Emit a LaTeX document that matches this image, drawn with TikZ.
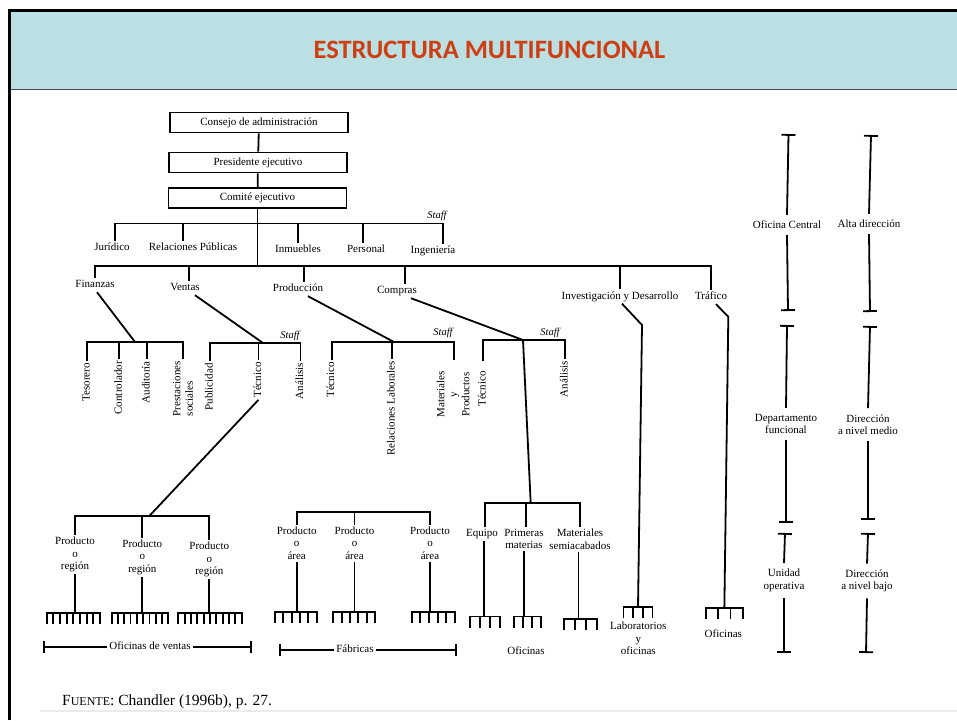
\documentclass[tikz,border=0pt]{standalone}
\usepackage{fontspec}
\setmainfont{Liberation Serif}
\newfontfamily\titlefont{Carlito}
\usepackage{xcolor}
\usepackage{tikz}
\usetikzlibrary{arrows.meta, positioning, calc}

\definecolor{hdrblue}{RGB}{187,224,227}
\definecolor{hdrred}{RGB}{205,62,18}

\newcommand{\chfont}{\fontsize{11}{12.5}\selectfont}
% comb of offices: name, x1, x2, y, teeth
\newcommand{\rake}[5]{%
  \coordinate (#1) at ({(#2+#3)/2},#4);
  \draw[ln] (#2,#4+11) -- (#2,#4) -- (#3,#4) -- (#3,#4+11);
  \foreach \k in {2,...,\numexpr#5-1\relax}
    \draw[ln] ({#2+(\k-1)*(#3-#2)/(#5-1)},#4) -- ++(0,11);
}

\begin{document}
\begin{tikzpicture}[
  x=1pt, y=-1pt,
  ln/.style={line width=1.8pt},
  box/.style={draw, line width=1.8pt, minimum width=178pt, minimum height=20pt,
              inner sep=1pt, font=\chfont},
  txt/.style={font=\chfont, inner sep=2pt},
  lbl/.style={txt, text height=7.5pt, text depth=2.5pt},
  mlbl/.style={txt, align=center},
  vlbl/.style={lbl, rotate=90, anchor=east},
  vmlbl/.style={mlbl, rotate=90, anchor=east},
  rlbl/.style={mlbl, inner sep=6pt},
  stf/.style={font=\fontsize{10.5}{11}\selectfont\itshape, inner sep=1pt},
  tkt/.style={ln, {Bar[width=14pt]}-},
  tkb/.style={ln, -{Bar[width=14pt]}}
]
\useasboundingbox (0,0) rectangle (957,720);

% slide header
\fill[hdrblue] (10,10) rectangle (957,89);
\draw[line width=1.5pt, black!70] (10,89.5) -- (957,89.5);
\draw[line width=3pt] (9.5,720) -- (9.5,10) -- (957,10);
\node[font=\titlefont\bfseries\fontsize{26.5}{30}\selectfont, text=hdrred] (title) at (489.5,50) {ESTRUCTURA MULTIFUNCIONAL};

% top of the company
\node[box] (consejo) at (259,122.5) {Consejo de administración};
\node[box] (pres)    at (258,162.5) {Presidente ejecutivo};
\node[box] (comite)  at (257.5,198) {Comité ejecutivo};
\draw[ln] (consejo) -- (pres);
\draw[ln] (pres) -- (comite);

\coordinate (st) at (257.5,223.5);
\coordinate (dv) at (257.5,266);
\draw[ln] (comite) -- (dv);

% staff
\node[lbl] (jur) at (112,248) {Jurídico};
\node[lbl] (rp)  at (193,248) {Relaciones Públicas};
\node[lbl] (inm) at (298,250) {Inmuebles};
\node[lbl] (per) at (366,250) {Personal};
\node[lbl] (ing) at (433,251) {Ingeniería};
\node[stf] (stf1) at (437,216) {Staff};
\draw[ln] ([xshift=3pt]jur.north) |- ([xshift=10pt]ing.north |- st) -- ([xshift=10pt]ing.north);
\foreach \n/\s in {rp/-10, inm/0, per/-3}
  \draw[ln] ([xshift=\s pt]\n.north) -- ([xshift=\s pt]\n.north |- st);

% functional departments
\node[lbl] (fin)  at (95,285)    {Finanzas};
\node[lbl] (ven)  at (185,288)   {Ventas};
\node[lbl] (prod) at (298,289)   {Producción};
\node[lbl] (comp) at (397,291)   {Compras};
\node[lbl] (id)   at (620,296.5) {Investigación y Desarrollo};
\node[lbl] (traf) at (711,297)   {Tráfico};
\draw[ln] (fin.north) |- (traf.north |- dv) -- (traf.north);
\foreach \n/\s in {ven/4, prod/6, comp/8, id/0}
  \draw[ln] ([xshift=\s pt]\n.north) -- ([xshift=\s pt]\n.north |- dv);

% finanzas
\coordinate (jf) at (135,342);
\draw[ln] ([xshift=2pt]fin.south) -- (jf);
\node[vlbl] (tes) at (87,361)    {Tesorero};
\node[vlbl] (ctl) at (119.3,359) {Controlador};
\node[vlbl] (aud) at (147,359)   {Auditoría};
\node[vmlbl, align=left] (pre) at (183,359) {Prestaciones\\sociales};
\draw[ln] (tes.east) |- (jf) -| (pre.east);
\draw[ln] (ctl.east) -- (ctl.east |- jf);
\draw[ln] (aud.east) -- (aud.east |- jf);

% ventas
\coordinate (jv) at (263,343);
\draw[ln] ([xshift=10pt]ven.south) -- (jv);
\node[vlbl] (pub)  at (210,361)   {Publicidad};
\node[vlbl] (tecv) at (258.5,360) {Técnico};
\node[vlbl] (anv)  at (300.5,361) {Análisis};
\node[stf] (stf2) at (290,336) {Staff};
\draw[ln] (pub.east) |- (anv.east |- jv) -- (anv.east);
\draw[ln] (tecv.east) -- (tecv.east |- jv);

% produccion
\coordinate (jp) at (394,342);
\draw[ln] ([xshift=10pt]prod.south) -- (jp);
\node[vlbl] (tecp) at (331.7,360) {Técnico};
\node[vlbl] (rl)   at (392,359)   {Relaciones Laborales};
\node[vmlbl] (mp)  at (453,369)   {Materiales\\y\\Productos};
\node[stf] (stf3) at (443,333) {Staff};
\draw[ln] (tecp.east) |- (jp) -| ([xshift=1pt, yshift=9pt]mp.east);
\draw[ln] (rl.east) -- (rl.east |- jp);

% compras
\coordinate (jc) at (523,340);
\draw[ln] ([xshift=14pt]comp.south) -- (jc);
\node[vlbl] (tecc) at (483,369) {Técnico};
\node[vlbl] (anc)  at (565,359) {Análisis};
\node[stf] (stf4) at (550,332.5) {Staff};
\draw[ln] ([yshift=8pt]tecc.east) |- (jc) -| (anc.east);
\coordinate (jc2) at (530.7,503.3);
\draw[ln] (jc) -- (jc2);

\node[lbl, anchor=north]  (equ)  at (482,527) {Equipo};
\node[mlbl, anchor=north] (prim) at (524,527) {Primeras\\materias};
\node[mlbl, anchor=north] (msa)  at (580,527) {Materiales\\semiacabados};
\draw[ln] ([xshift=3pt]equ.north) |- (jc2) -| (msa.north);
\draw[ln] ([xshift=2pt]prim.north) -- ([xshift=2pt]prim.north |- jc2);
\rake{rke}{470}{500}{616.5}{4}
\rake{rkp}{514}{540.7}{616.5}{4}
\rake{rkm}{564}{596.7}{619}{4}
\draw[ln] ([xshift=2pt]equ.south) -- ([xshift=2pt]equ.south |- rke);
\draw[ln] (prim.south) -- (prim.south |- rkp);
\draw[ln] ([xshift=-1.5pt]msa.south) -- ([xshift=-1.5pt]msa.south |- rkm);
\node[lbl] (ofc) at (526,651.5) {Oficinas};

% oficinas de ventas
\coordinate (jpv) at (149.3,516);
\draw[ln] (tecv.west) -- (jpv);
\node[mlbl, anchor=north] (pv1) at (75,535)    {Producto\\o\\región};
\node[mlbl, anchor=north] (pv2) at (142.3,537.5) {Producto\\o\\región};
\node[mlbl, anchor=north] (pv3) at (209.3,540) {Producto\\o\\región};
\draw[ln] (pv1.north) |- (jpv) -| (pv3.north);
\draw[ln] (pv2.north) -- (pv2.north |- jpv);
\rake{rv1}{46.7}{100}{613.3}{9}
\rake{rv2}{111.7}{168.3}{613.3}{10}
\rake{rv3}{178.3}{241.7}{613.3}{11}
\foreach \n/\r in {pv1/rv1, pv2/rv2, pv3/rv3}
  \draw[ln] (\n.south) -- (\n.south |- \r);
\node[lbl] (ofv) at (150,647) {Oficinas de ventas};
\coordinate (ovl) at (43.3,647);
\coordinate (ovr) at (251.7,647);
\draw[ln, {Bar[width=12pt]}-] (ovl) -- (ofv.west);
\draw[ln, -{Bar[width=12pt]}] (ofv.east) -- (ovr);

% fabricas
\coordinate (fab) at (355,511.7);
\node[mlbl, anchor=north] (fa1) at (296.7,524.5) {Producto\\o\\área};
\node[mlbl, anchor=north] (fa2) at (354.5,524.5) {Producto\\o\\área};
\node[mlbl, anchor=north] (fa3) at (430,524.5)   {Producto\\o\\área};
\draw[ln] (fa1.north) |- (fab) -| (fa3.north);
\draw[ln] (fa2.north) -- (fa2.north |- fab);
\rake{rf1}{275}{316.7}{611.7}{6}
\rake{rf2}{333.3}{375}{611.7}{6}
\rake{rf3}{411.7}{455}{611.7}{6}
\foreach \n/\r in {fa1/rf1, fa2/rf2, fa3/rf3}
  \draw[ln] (\n.south) -- (\n.south |- \r);
\node[lbl] (ofa) at (355,650) {Fábricas};
\coordinate (ofl) at (279.3,650);
\coordinate (ofr) at (456.7,650);
\draw[ln, {Bar[width=12pt]}-] (ofl) -- (ofa.west);
\draw[ln, -{Bar[width=12pt]}] (ofa.east) -- (ofr);

% investigacion y trafico
\coordinate (ib) at (642,325);
\rake{rki}{623.5}{652.5}{607.3}{4}
\draw[ln] ([xshift=2pt]id.south) -- (ib) -- (rki);
\node[mlbl, anchor=north] (lab) at (638.3,620) {Laboratorios\\y\\oficinas};
\coordinate (tb) at (728.3,316.7);
\rake{rkt}{706}{742.7}{608.3}{4}
\draw[ln] ([xshift=5pt]traf.south) -- (tb) -- (rkt);
\node[lbl] (oft) at (723.3,635) {Oficinas};

% levels
\node[rlbl] (oc)  at (787,225)   {Oficina Central};
\node[rlbl] (ad)  at (869,224)   {Alta dirección};
\node[rlbl] (dfu) at (786,424)   {Departamento\\funcional};
\node[rlbl] (dme) at (868,424.5) {Dirección\\a nivel medio};
\node[rlbl] (uop) at (784,580.5) {Unidad\\operativa};
\node[rlbl] (dba) at (867,581)   {Dirección\\a nivel bajo};
\coordinate (c1a) at (788.5,134); \coordinate (c1b) at (788,311);
\coordinate (c1c) at (787,325);   \coordinate (c1d) at (786,523);
\coordinate (c1e) at (785,533);   \coordinate (c1f) at (784,653);
\coordinate (c2a) at (871,135);   \coordinate (c2b) at (870,312);
\coordinate (c2c) at (870,326);   \coordinate (c2d) at (868,520);
\coordinate (c2e) at (868,533);   \coordinate (c2f) at (866,653);
\draw[tkt] (c1a) -- (oc.north);  \draw[tkb] (oc.south) -- (c1b);
\draw[tkt] (c1c) -- (dfu.north); \draw[tkb] (dfu.south) -- (c1d);
\draw[tkt] (c1e) -- (uop.north); \draw[tkb] (uop.south) -- (c1f);
\draw[tkt] (c2a) -- (ad.north);  \draw[tkb] (ad.south) -- (c2b);
\draw[tkt] (c2c) -- (dme.north); \draw[tkb] (dme.south) -- (c2d);
\draw[tkt] (c2e) -- (dba.north); \draw[tkb] (dba.south) -- (c2f);

% source
\draw[black!8, line width=1.5pt] (40,711) -- (957,711);
\node[anchor=west, inner sep=0pt] (src) at (62,702)
  {\fontsize{15.5}{17}\selectfont F\fontsize{12}{14}\selectfont UENTE\fontsize{15.5}{17}\selectfont: Chandler (1996b), p. 27.};
\end{tikzpicture}
\end{document}
